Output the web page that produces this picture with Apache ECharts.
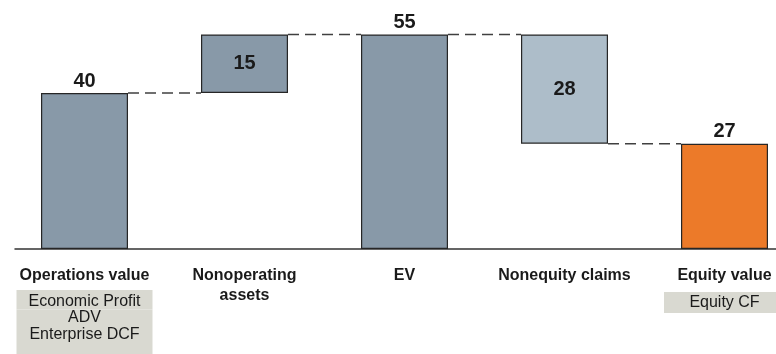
<!DOCTYPE html>
<html>
<head>
<meta charset="utf-8">
<script src="https://cdn.jsdelivr.net/npm/echarts@6/dist/echarts.min.js"></script>
<style>
  html, body { margin: 0; padding: 0; background: #ffffff; }
  #chart { width: 776px; height: 354px; }
</style>
</head>
<body>
<div id="chart"></div>
<script>
// Bridge from operations value to equity value
var categories = ['Operations value', 'Nonoperating\nassets', 'EV', 'Nonequity claims', 'Equity value'];
var subLabels = [['Economic Profit', 'ADV', 'Enterprise DCF'], [], [], [], ['Equity CF']];
var baseValues = [0, 40, 0, 27, 0];
var barValues = [40, 15, 55, 28, 27];
var isTotal = [true, false, true, false, true];
// connector levels between consecutive bars (from bar i to bar i+1)
var connectorLevels = [40, 55, 55, 27];

var barColors = ['#8899a8', '#8899a8', '#8899a8', '#adbdc9', '#ec7a29'];
var BAR_W = 87;
var FONT = "'Liberation Sans', Arial, sans-serif";

var chart = echarts.init(document.getElementById('chart'), null, { renderer: 'canvas' });

var valueData = barValues.map(function (v, i) {
  return {
    value: v,
    itemStyle: { color: barColors[i] },
    label: { position: isTotal[i] ? 'top' : 'inside', distance: 2 }
  };
});

var connectorData = connectorLevels.map(function (lv, i) { return [i, lv]; });

function axisLabelText(value, index) {
  var main = value.split('\n');
  var subs = subLabels[index] || [];
  var lines = main.map(function (t, k) {
    var style = 't';
    if (k === main.length - 1 && subs.length) style = subs.length > 1 ? 'tp' : 'tq';
    return '{' + style + '|' + t + '}';
  });
  subs.forEach(function (s, k) {
    var style;
    if (subs.length === 1) style = 'e';
    else if (k === 0) style = 'b1';
    else if (k === subs.length - 1) style = 'b3';
    else style = 'b';
    lines.push('{' + style + '|' + s + '}');
  });
  return lines.join('\n');
}

var boxBase = { fontFamily: FONT, fontSize: 16, color: '#1a1a1a', backgroundColor: '#d9d9d1', align: 'center' };
var headBase = { fontFamily: FONT, fontSize: 16, fontWeight: 'bold', color: '#1a1a1a', align: 'center' };

var option = {
  backgroundColor: '#ffffff',
  animation: false,
  grid: [
    { left: 4.5, width: 800, top: 15, bottom: 105, outerBoundsMode: 'none', containLabel: false },
    { left: 15, right: 0, top: 15, bottom: 105, outerBoundsMode: 'none', containLabel: false }
  ],
  xAxis: [
    {
      type: 'category',
      gridIndex: 0,
      data: categories,
      axisLine: { show: false },
      axisTick: { show: false },
      axisLabel: {
        interval: 0,
        margin: 17,
        hideOverlap: false,
        formatter: axisLabelText,
        rich: {
          t: Object.assign({}, headBase, { lineHeight: 20 }),
          tp: Object.assign({}, headBase, { height: 20, padding: [0, 0, 4, 0], lineHeight: 24 }),
          tq: Object.assign({}, headBase, { height: 20, padding: [0, 0, 6, 0], lineHeight: 26 }),
          b1: Object.assign({}, boxBase, { width: 136, height: 16.5, padding: [3, 0, 0, 0], lineHeight: 19.5 }),
          b: Object.assign({}, boxBase, { width: 136, height: 16.5, lineHeight: 16.5 }),
          b3: Object.assign({}, boxBase, { width: 136, height: 16.5, padding: [0, 0, 14, 0], lineHeight: 30.5 }),
          e: Object.assign({}, boxBase, { width: 121, height: 21, lineHeight: 21 })
        }
      }
    },
    {
      type: 'value',
      gridIndex: 1,
      min: 0,
      max: 1,
      axisLine: { show: true, onZero: false, lineStyle: { color: '#333333', width: 1.5 } },
      axisTick: { show: false },
      axisLabel: { show: false },
      splitLine: { show: false }
    }
  ],
  yAxis: [
    {
      type: 'value',
      gridIndex: 0,
      min: 0,
      max: 60,
      show: false,
      splitLine: { show: false }
    },
    {
      type: 'value',
      gridIndex: 1,
      min: 0,
      max: 1,
      show: false
    }
  ],
  series: [
    {
      type: 'custom',
      name: 'connectors',
      xAxisIndex: 0,
      yAxisIndex: 0,
      z: 1,
      data: connectorData,
      renderItem: function (params, api) {
        var i = api.value(0);
        var lv = api.value(1);
        var p0 = api.coord([i, lv]);
        var p1 = api.coord([i + 1, lv]);
        return {
          type: 'line',
          shape: { x1: p0[0] + BAR_W / 2, y1: p0[1], x2: p1[0] - BAR_W / 2, y2: p1[1] },
          style: { stroke: '#404040', lineWidth: 1.5, lineDash: [11, 6] }
        };
      }
    },
    {
      type: 'bar',
      name: 'base',
      stack: 'bridge',
      xAxisIndex: 0,
      yAxisIndex: 0,
      barWidth: BAR_W,
      z: 2,
      itemStyle: { color: 'transparent' },
      emphasis: { disabled: true },
      data: baseValues
    },
    {
      type: 'bar',
      name: 'value',
      stack: 'bridge',
      xAxisIndex: 0,
      yAxisIndex: 0,
      barWidth: BAR_W,
      z: 3,
      itemStyle: { borderColor: '#262626', borderWidth: 1.2 },
      label: {
        show: true,
        fontFamily: FONT,
        fontSize: 20,
        fontWeight: 'bold',
        color: '#1a1a1a'
      },
      data: valueData
    }
  ]
};

chart.setOption(option);
</script>
</body>
</html>
